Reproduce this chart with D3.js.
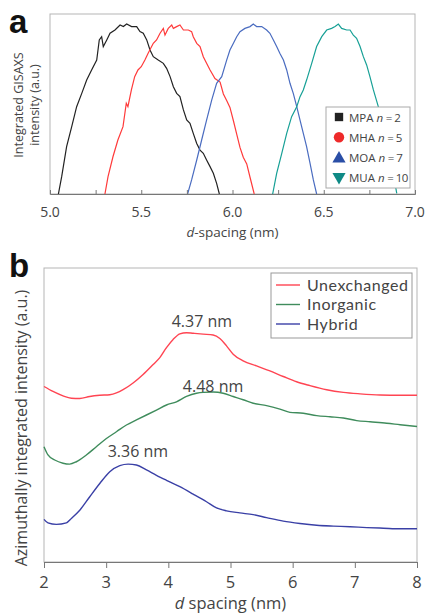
<!DOCTYPE html>
<html><head><meta charset="utf-8">
<script src="https://cdn.jsdelivr.net/npm/d3@7"></script>
<style>body{margin:0;background:#fff}svg{display:block}text{font-family:"Open Sans",sans-serif;fill:#444}</style>
</head><body><svg id="c" width="426" height="613"></svg>
<script>
// ---------- Panel a data (d-spacing nm, normalized intensity) ----------
const aTicks = [5.0, 5.5, 6.0, 6.5, 7.0];
const aSeriesNames = ["MPA", "MHA", "MOA", "MUA"];
const aSeriesN = [2, 5, 7, 10];
const mpaX = [5.046,5.064,5.091,5.119,5.146,5.174,5.201,5.228,5.256,5.27,5.283,5.292,5.311,5.329,5.356,5.384,5.402,5.42,5.447,5.475,5.493,5.511,5.53,5.548,5.566,5.593,5.621,5.639,5.658,5.676,5.694,5.712,5.731,5.749,5.767,5.785,5.804,5.822,5.84,5.858,5.877,5.895,5.913,5.928];
const mpaY = [0,0.096,0.263,0.374,0.485,0.559,0.633,0.689,0.744,0.856,0.874,0.819,0.856,0.893,0.911,0.939,0.93,0.944,0.93,0.93,0.902,0.893,0.856,0.8,0.763,0.744,0.726,0.698,0.652,0.596,0.559,0.541,0.467,0.411,0.393,0.337,0.281,0.244,0.226,0.189,0.152,0.115,0.059,0];
const mhaX = [5.301,5.318,5.345,5.372,5.4,5.418,5.427,5.446,5.464,5.482,5.5,5.52,5.537,5.566,5.584,5.603,5.621,5.63,5.648,5.667,5.676,5.694,5.712,5.731,5.758,5.776,5.785,5.804,5.822,5.84,5.858,5.877,5.904,5.932,5.95,5.968,5.986,6.005,6.023,6.041,6.059,6.078,6.096,6.119];
const mhaY = [0,0.096,0.207,0.3,0.374,0.504,0.485,0.578,0.652,0.689,0.707,0.744,0.781,0.837,0.856,0.893,0.92,0.883,0.92,0.939,0.92,0.93,0.939,0.911,0.911,0.902,0.874,0.837,0.819,0.763,0.726,0.689,0.641,0.622,0.556,0.52,0.481,0.407,0.333,0.259,0.204,0.167,0.093,0];
const moaX = [5.754,5.776,5.804,5.831,5.858,5.886,5.913,5.941,5.968,5.986,6.005,6.023,6.041,6.068,6.096,6.114,6.132,6.16,6.187,6.205,6.224,6.242,6.26,6.279,6.297,6.315,6.333,6.352,6.37,6.388,6.406,6.425,6.443,6.461];
const moaY = [0,0.078,0.189,0.3,0.411,0.522,0.615,0.652,0.744,0.8,0.837,0.874,0.902,0.92,0.93,0.944,0.93,0.93,0.911,0.893,0.856,0.819,0.781,0.744,0.689,0.615,0.559,0.485,0.411,0.337,0.263,0.17,0.078,0];
const muaX = [6.22,6.242,6.27,6.297,6.324,6.352,6.37,6.388,6.406,6.434,6.461,6.489,6.516,6.543,6.562,6.58,6.598,6.626,6.644,6.662,6.68,6.699,6.717,6.735,6.753,6.772,6.799,6.826,6.845,6.863,6.881,6.9];
const muaY = [0,0.115,0.226,0.337,0.43,0.485,0.541,0.578,0.633,0.726,0.819,0.874,0.911,0.92,0.93,0.944,0.92,0.911,0.911,0.883,0.865,0.819,0.763,0.717,0.652,0.578,0.485,0.374,0.3,0.207,0.115,0.004];

// ---------- Panel b data (d spacing nm, offset intensity) ----------
const bTicks = [2, 3, 4, 5, 6, 7, 8];
const bSeriesNames = ["Unexchanged", "Inorganic", "Hybrid"];
const unexX = [2,2.145,2.306,2.44,2.575,2.736,2.897,3.058,3.165,3.272,3.433,3.594,3.756,3.863,3.97,4.077,4.185,4.292,4.399,4.56,4.721,4.829,4.936,5.043,5.204,5.419,5.634,5.849,6.063,6.278,6.547,6.815,7.084,7.406,7.728,8];
const unexY = [0.597,0.58,0.565,0.557,0.556,0.563,0.567,0.569,0.575,0.586,0.609,0.638,0.672,0.695,0.729,0.757,0.776,0.78,0.778,0.775,0.772,0.76,0.735,0.707,0.684,0.667,0.65,0.631,0.613,0.6,0.586,0.577,0.572,0.568,0.567,0.567];
const inorgX = [2,2.064,2.172,2.306,2.413,2.52,2.681,2.842,3.004,3.165,3.326,3.487,3.648,3.809,3.97,4.131,4.292,4.453,4.56,4.721,4.882,5.043,5.204,5.365,5.58,5.795,5.956,6.171,6.386,6.6,6.815,7.03,7.245,7.513,7.728,8];
const inorgY = [0.392,0.364,0.347,0.336,0.333,0.341,0.364,0.392,0.42,0.443,0.466,0.483,0.5,0.517,0.534,0.545,0.563,0.574,0.577,0.578,0.574,0.563,0.552,0.54,0.532,0.52,0.509,0.506,0.498,0.494,0.49,0.481,0.477,0.472,0.467,0.461];
const hybX = [2,2.064,2.199,2.36,2.44,2.575,2.736,2.897,3.058,3.219,3.353,3.487,3.648,3.809,3.97,4.185,4.399,4.614,4.775,4.936,5.15,5.365,5.58,5.849,6.117,6.386,6.654,6.923,7.191,7.46,7.728,8];
const hybY = [0.145,0.133,0.128,0.133,0.148,0.176,0.222,0.267,0.307,0.328,0.333,0.33,0.313,0.295,0.278,0.256,0.231,0.205,0.184,0.174,0.167,0.161,0.151,0.139,0.131,0.125,0.122,0.12,0.117,0.115,0.113,0.113];
const bPeakLabels = ["4.37 nm", "4.48 nm", "3.36 nm"];
const bPeakLabelX = [4.54, 4.72, 3.51];
const bPeakLabelY = [0.80, 0.578, 0.357];

const svg = d3.select("#c");

// ================= Panel a =================
const aM = {l:50, r:415, t:14, b:194};
const ax = d3.scaleLinear().domain([5,7]).range([aM.l, aM.r]);
const ay = d3.scaleLinear().domain([0,1]).range([aM.b, aM.t]);
const aColors = ["#222222", "#ff3a3a", "#4a6cc0", "#17a096"];
const aMarkColors = ["#222222", "#ee2a2a", "#2a4ea6", "#0f8a86"];
svg.append("clipPath").attr("id","clipA").append("rect")
  .attr("x",aM.l).attr("y",aM.t).attr("width",aM.r-aM.l).attr("height",aM.b-aM.t);
svg.append("rect").attr("x",aM.l).attr("y",aM.t).attr("width",aM.r-aM.l).attr("height",aM.b-aM.t)
  .attr("fill","none").attr("stroke","#b5b5b5").attr("stroke-width",1);
const aData = [[mpaX,mpaY],[mhaX,mhaY],[moaX,moaY],[muaX,muaY]];
const lineA = d3.line().x(d=>ax(d[0])).y(d=>ay(d[1]));
aData.forEach((s,i)=>{
  const pts = s[0].map((x,j)=>[x,s[1][j]]);
  svg.append("path").attr("d",lineA(pts)).attr("fill","none").attr("stroke",aColors[i])
    .attr("stroke-width",1.2).attr("clip-path","url(#clipA)");
});
const axA = svg.append("g").attr("transform",`translate(0,${aM.b})`)
  .call(d3.axisBottom(ax).tickValues(d3.range(5,7.01,0.25)).tickSize(-4).tickFormat(""));
axA.select(".domain").attr("stroke","#777");
axA.selectAll(".tick line").attr("stroke","#777");
aTicks.forEach(t=>svg.append("text").attr("x",ax(t)).attr("y",217).attr("text-anchor","middle")
  .attr("font-size",14).text(d3.format(".1f")(t)));
const xlA = svg.append("text").attr("x",(aM.l+aM.r)/2).attr("y",237).attr("text-anchor","middle").attr("font-size",13.5);
xlA.append("tspan").attr("font-style","italic").text("d");
xlA.append("tspan").text("-spacing (nm)");
svg.append("text").attr("transform","translate(23,105) rotate(-90)").attr("text-anchor","middle")
  .attr("font-size",12.5).text("Integrated GISAXS");
svg.append("text").attr("transform","translate(39,105) rotate(-90)").attr("text-anchor","middle")
  .attr("font-size",12.5).text("intensity (a.u.)");
svg.append("text").attr("x",9).attr("y",33).attr("font-size",33).attr("font-weight","bold")
  .style("fill","#111").style("font-family","'Liberation Sans',Arial,sans-serif").text("a");
// legend a
svg.append("rect").attr("x",326).attr("y",107).attr("width",84).attr("height",81)
  .attr("fill","#fff").attr("stroke","#aaa");
const symA = [d3.symbolSquare, d3.symbolCircle, d3.symbolTriangle, d3.symbolTriangle];
const symSize = [70, 85, 75, 75];
aSeriesNames.forEach((n,i)=>{
  const y = 117 + i*20.3;
  svg.append("path").attr("d",d3.symbol().type(symA[i]).size(symSize[i])())
    .attr("transform",`translate(339,${y + (i===3?-1:i===2?1:0)}) rotate(${i===3?180:0})`).attr("fill",aMarkColors[i]);
  const t = svg.append("text").attr("x",349).attr("y",y+4.5).attr("font-size",11.5);
  t.append("tspan").text(n+" ");
  t.append("tspan").attr("font-style","italic").text("n");
  t.append("tspan").text(" = "+aSeriesN[i]).attr("letter-spacing","-0.5");
});

// ================= Panel b =================
const bM = {l:44, r:417, t:268, b:562};
const bx = d3.scaleLinear().domain([2,8]).range([bM.l, bM.r]);
const by = d3.scaleLinear().domain([0,1]).range([bM.b, bM.t]);
const bColors = ["#ff4452", "#3f8c5c", "#3a40a6"];
svg.append("rect").attr("x",bM.l).attr("y",bM.t).attr("width",bM.r-bM.l).attr("height",bM.b-bM.t)
  .attr("fill","none").attr("stroke","#b5b5b5").attr("stroke-width",1);
const lineB = d3.line().x(d=>bx(d[0])).y(d=>by(d[1])).curve(d3.curveMonotoneX);
const bData = [[unexX,unexY],[inorgX,inorgY],[hybX,hybY]];
bData.forEach((s,i)=>{
  const pts = s[0].map((x,j)=>[x,s[1][j]]);
  svg.append("path").attr("d",lineB(pts)).attr("fill","none").attr("stroke",bColors[i]).attr("stroke-width",1.4);
});
const axB = svg.append("g").attr("transform",`translate(0,${bM.b})`)
  .call(d3.axisBottom(bx).tickValues(bTicks).tickSize(6).tickFormat(""));
axB.select(".domain").attr("stroke","#777");
axB.selectAll(".tick line").attr("stroke","#777");
bTicks.forEach(t=>svg.append("text").attr("x",bx(t)).attr("y",588).attr("text-anchor","middle")
  .attr("font-size",16.5).text(t));
const xlB = svg.append("text").attr("x",(bM.l+bM.r)/2).attr("y",609).attr("text-anchor","middle").attr("font-size",16.5);
xlB.append("tspan").attr("font-style","italic").text("d");
xlB.append("tspan").text(" spacing (nm)");
svg.append("text").attr("transform","translate(27,428) rotate(-90)").attr("text-anchor","middle")
  .attr("font-size",16).text("Azimuthally integrated intensity (a.u.)");
svg.append("text").attr("x",9).attr("y",277).attr("font-size",33).attr("font-weight","bold")
  .style("fill","#111").style("font-family","'Liberation Sans',Arial,sans-serif").text("b");
// peak labels
bPeakLabels.forEach((l,i)=>{
  svg.append("text").attr("x",bx(bPeakLabelX[i])).attr("y",by(bPeakLabelY[i])).attr("text-anchor","middle")
    .attr("font-size",16).text(l);
});
// legend b
svg.append("rect").attr("x",271).attr("y",273).attr("width",141).attr("height",65)
  .attr("fill","#fff").attr("stroke","#999");
bSeriesNames.forEach((n,i)=>{
  const y = 285 + i*19.5;
  svg.append("line").attr("x1",276).attr("x2",300).attr("y1",y).attr("y2",y).attr("stroke",bColors[i]).attr("stroke-width",1.4);
  svg.append("text").attr("x",307).attr("y",y+5.5).attr("font-size",16).attr("letter-spacing",0.55)
    .style("font-family","Lato,sans-serif").text(n);
});
</script></body></html>
